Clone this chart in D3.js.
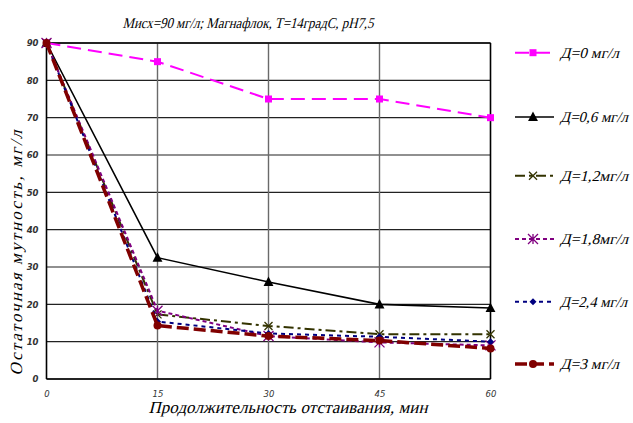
<!DOCTYPE html>
<html><head><meta charset="utf-8">
<script src="https://cdn.jsdelivr.net/npm/d3@7"></script>
<style>body{margin:0;background:#fff}svg{display:block}
.serif{font-family:'Liberation Serif','Times New Roman',serif;font-style:normal}
</style>
</head><body>
<script>
const times = [0, 15, 30, 45, 60];
const yTicks = [0, 10, 20, 30, 40, 50, 60, 70, 80, 90];
const seriesNames = ["Д=0 мг/л", "Д=0,6 мг/л", "Д=1,2мг/л", "Д=1,8мг/л", "Д=2,4 мг/л", "Д=3 мг/л"];
const d0 = [90, 85, 75, 75, 70];
const d06 = [90, 32.5, 26, 20, 19];
const d12 = [90, 17.3, 14.2, 12, 12];
const d18 = [90, 18.3, 11.5, 9.8, 9];
const d24 = [90, 15.4, 12.2, 11.3, 10];
const d3v = [90, 14.3, 11.5, 10.3, 8.2];
const subtitle = "Мисх=90 мг/л; Магнафлок, Т=14градС, рН7,5";
const xTitle = "Продолжительность отстаивания, мин";
const yTitle = "Остаточная мутность, мг/л";

const styles = [
  {color:"#FF00FF", width:2, dash:"14,7", marker:"square"},
  {color:"#000000", width:1.6, dash:null, marker:"triangle"},
  {color:"#333300", width:2, dash:"10,4,3,4", marker:"x"},
  {color:"#800080", width:2, dash:"4,3", marker:"asterisk"},
  {color:"#000080", width:2, dash:"4,4", marker:"diamond"},
  {color:"#800000", width:3.5, dash:"12,5", marker:"circle"}
];
const allData = [d0, d06, d12, d18, d24, d3v];

const W = 633, H = 423;
const svg = d3.select("body").append("svg").attr("width", W).attr("height", H);
const x = d3.scaleLinear().domain([0, 60]).range([46.5, 490.5]);
const y = d3.scaleLinear().domain([0, 90]).range([379, 43]);

// gridlines
const g = svg.append("g");
g.selectAll("line.h").data(yTicks).enter().append("line")
  .attr("x1", x(0)).attr("x2", x(60)).attr("y1", d=>y(d)).attr("y2", d=>y(d))
  .attr("stroke", "#222").attr("stroke-width", 1.2);
g.selectAll("line.v").data(times).enter().append("line")
  .attr("x1", d=>x(d)).attr("x2", d=>x(d)).attr("y1", y(0)).attr("y2", y(90))
  .attr("stroke", d=> (d===0||d===60) ? "#000" : "#6a6a6a").attr("stroke-width", d=> (d===0||d===60)?1.6:1.4);
g.append("line").attr("x1", x(0)).attr("x2", x(60)).attr("y1", y(90)).attr("y2", y(90)).attr("stroke","#000").attr("stroke-width",1.6);
g.append("line").attr("x1", x(0)).attr("x2", x(60)).attr("y1", y(0)).attr("y2", y(0)).attr("stroke","#000").attr("stroke-width",1.6);

// axes via d3
const yAxis = d3.axisLeft(y).tickValues(yTicks).tickSize(0).tickPadding(8);
const ya = svg.append("g").attr("transform", `translate(${x(0)},0)`).call(yAxis);
ya.select(".domain").remove();
ya.attr("font-family", "DejaVu Sans").attr("font-size", 8.5);
ya.selectAll("text").attr("fill","#333").attr("font-weight","bold").attr("font-style","italic");
const xAxis = d3.axisBottom(x).tickValues(times).tickSize(0).tickPadding(12);
const xa = svg.append("g").attr("transform", `translate(0,${y(0)})`).call(xAxis);
xa.select(".domain").remove();
xa.attr("font-family", "DejaVu Sans").attr("font-size", 8.5);
xa.selectAll("text").attr("fill","#333").attr("font-style","italic");

// lines
const line = d3.line().x((d,i)=>x(times[i])).y(d=>y(d));
function drawMarker(sel, type, color, cx, cy, s) {
  if (type==="square") sel.append("rect").attr("x",cx-s/2).attr("y",cy-s/2).attr("width",s).attr("height",s).attr("fill",color);
  else if (type==="triangle") sel.append("path").attr("d",`M${cx},${cy-s*0.6}L${cx+s*0.55},${cy+s*0.45}L${cx-s*0.55},${cy+s*0.45}Z`).attr("fill",color);
  else if (type==="x") sel.append("path").attr("d",`M${cx-s/2},${cy-s/2}L${cx+s/2},${cy+s/2}M${cx-s/2},${cy+s/2}L${cx+s/2},${cy-s/2}`).attr("stroke",color).attr("stroke-width",1.3).attr("fill","none");
  else if (type==="asterisk") sel.append("path").attr("d",`M${cx-s/2},${cy-s/2}L${cx+s/2},${cy+s/2}M${cx-s/2},${cy+s/2}L${cx+s/2},${cy-s/2}M${cx},${cy-s/2}L${cx},${cy+s/2}`).attr("stroke",color).attr("stroke-width",1.3).attr("fill","none");
  else if (type==="diamond") sel.append("path").attr("d",`M${cx},${cy-s/2}L${cx+s/2},${cy}L${cx},${cy+s/2}L${cx-s/2},${cy}Z`).attr("fill",color);
  else if (type==="circle") sel.append("circle").attr("cx",cx).attr("cy",cy).attr("r",s/2).attr("fill",color);
}
const sizes = {square:7, triangle:9, x:8, asterisk:10, diamond:7, circle:8};
allData.forEach((vals, k) => {
  const st = styles[k];
  const p = svg.append("path").datum(vals).attr("d", line).attr("fill","none")
    .attr("stroke", st.color).attr("stroke-width", st.width);
  if (st.dash) p.attr("stroke-dasharray", st.dash);
  const mg = svg.append("g");
  vals.forEach((v,i)=> drawMarker(mg, st.marker, st.color, x(times[i]), y(v), sizes[st.marker]));
});

// slanted serif text helper (Times-like italic)
function slanted(parent, tx, ty, rot, str, size, anchor, len, adjust) {
  const gg = parent.append("g").attr("transform", `translate(${tx},${ty}) rotate(${rot}) skewX(-14)`);
  const t = gg.append("text").attr("class","serif").attr("x",0).attr("y",0)
    .attr("text-anchor", anchor).attr("font-size", size).attr("fill","#000").text(str);
  if (len) t.attr("textLength", len).attr("lengthAdjust", adjust || "spacingAndGlyphs");
  return t;
}

// legend
const legY = [52.7, 117, 175.7, 239, 301.7, 364];
const legendLens = [59, 68, 68, 68, 67, 59];
seriesNames.forEach((name, k) => {
  const st = styles[k];
  const lg = svg.append("g");
  const ly = legY[k];
  const l = lg.append("line").attr("x1", 515).attr("x2", 554).attr("y1", ly).attr("y2", ly)
    .attr("stroke", st.color).attr("stroke-width", st.width);
  if (st.dash) l.attr("stroke-dasharray", st.dash);
  drawMarker(lg, st.marker, st.color, 533, ly, sizes[st.marker]);
  slanted(lg, 560, ly + 5, 0, name, 15, "start", legendLens[k]);
});

// titles
slanted(svg, 248, 28, 0, subtitle, 15, "middle", 251);
slanted(svg, 288, 413, 0, xTitle, 17, "middle", 279, "spacing");
slanted(svg, 22, 253, -90, yTitle, 17, "middle", 245, "spacing");
</script>
</body></html>
